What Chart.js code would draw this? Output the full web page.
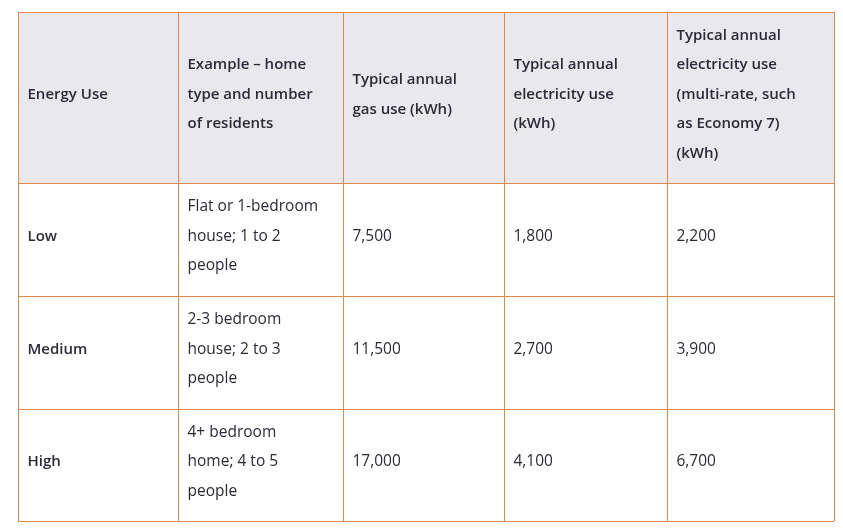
<!DOCTYPE html>
<html><head><meta charset="utf-8">
<script src="https://cdn.jsdelivr.net/npm/chart.js@4.4.1/dist/chart.umd.min.js"></script>
<style>html,body{margin:0;background:#fff}canvas{display:block}</style>
</head><body>
<canvas id="c" width="843" height="531"></canvas>
<script>
// table content
const headers = [
  ["Energy Use"],
  ["Example \u2013 home", "type and number", "of residents"],
  ["Typical annual", "gas use (kWh)"],
  ["Typical annual", "electricity use", "(kWh)"],
  ["Typical annual", "electricity use", "(multi-rate, such", "as Economy 7)", "(kWh)"]
];
const categories = ["Low", "Medium", "High"];
const homes = [
  ["Flat or 1-bedroom", "house; 1 to 2", "people"],
  ["2-3 bedroom", "house; 2 to 3", "people"],
  ["4+ bedroom", "home; 4 to 5", "people"]
];
const gasUse = [7500, 11500, 17000];
const elecUse = [1800, 2700, 4100];
const multiRateUse = [2200, 3900, 6700];

// layout (scale units = pixels)
const colEdges = [18, 178, 343, 504, 667, 834];
const rowEdges = [12, 183, 296, 409, 521];
const fmt = v => v.toLocaleString("en-GB");

const tablePlugin = {
  id: "table",
  afterDraw(chart) {
    const {ctx, scales: {x, y}} = chart;
    const X = v => x.getPixelForValue(v), Y = v => y.getPixelForValue(v);
    ctx.save();
    ctx.fillStyle = "#e9e8ec";
    ctx.fillRect(X(colEdges[0]), Y(rowEdges[0]), X(colEdges[5]) - X(colEdges[0]), Y(rowEdges[1]) - Y(rowEdges[0]));
    const lh = 29.5;
    const drawCell = (lines, c, r, bold) => {
      ctx.font = (bold ? "600 15px" : "15.5px") + " 'Open Sans', sans-serif";
      ctx.fillStyle = "#2b2b38";
      ctx.textBaseline = "middle";
      const cy = (Y(rowEdges[r]) + Y(rowEdges[r + 1])) / 2 - 3;
      const top = cy - (lines.length - 1) * lh / 2;
      lines.forEach((t, i) => ctx.fillText(t, X(colEdges[c]) + 9.5, top + i * lh));
    };
    headers.forEach((h, c) => drawCell(h, c, 0, true));
    categories.forEach((cat, i) => {
      drawCell([cat], 0, i + 1, true);
      drawCell(homes[i], 1, i + 1, false);
      drawCell([fmt(gasUse[i])], 2, i + 1, false);
      drawCell([fmt(elecUse[i])], 3, i + 1, false);
      drawCell([fmt(multiRateUse[i])], 4, i + 1, false);
    });
    ctx.strokeStyle = "#e0894a";
    ctx.lineWidth = 1;
    colEdges.forEach(c => { ctx.beginPath(); ctx.moveTo(Math.round(X(c)) + 0.5, Y(rowEdges[0])); ctx.lineTo(Math.round(X(c)) + 0.5, Y(rowEdges[4])); ctx.stroke(); });
    rowEdges.forEach(r => { ctx.beginPath(); ctx.moveTo(X(colEdges[0]), Math.round(Y(r)) + 0.5); ctx.lineTo(X(colEdges[5]), Math.round(Y(r)) + 0.5); ctx.stroke(); });
    ctx.restore();
  }
};

new Chart(document.getElementById("c"), {
  type: "scatter",
  data: { datasets: [] },
  options: {
    responsive: false, animation: false,
    layout: { padding: 0 },
    plugins: { legend: { display: false }, tooltip: { enabled: false } },
    scales: {
      x: { type: "linear", min: 0, max: 843, display: false },
      y: { type: "linear", min: 0, max: 531, reverse: true, display: false }
    }
  },
  plugins: [tablePlugin]
});
</script>
</body></html>
